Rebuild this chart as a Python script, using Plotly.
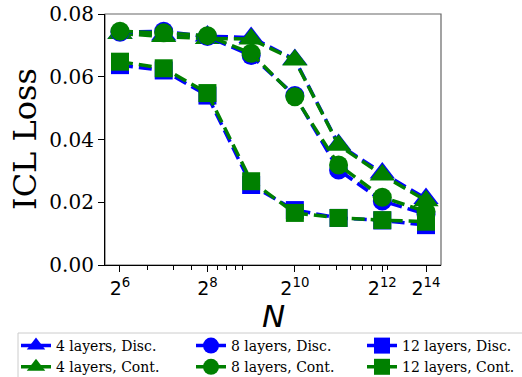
import plotly.graph_objects as go

# ---- data ----
N = [2**6, 2**7, 2**8, 2**9, 2**10, 2**11, 2**12, 2**13]
tick_vals = [2**6, 2**8, 2**10, 2**12, 2**13]
tick_text = ["2<sup>6</sup>", "2<sup>8</sup>", "2<sup>10</sup>", "2<sup>12</sup>", "2<sup>14</sup>"]
minor_exps = [6.634, 7.220, 7.641, 8.236, 8.442, 8.632, 8.808,
              10.554, 10.959, 11.279, 11.554, 11.760, 12.126]

disc4 = [0.0738, 0.0733, 0.0730, 0.0725, 0.0655, 0.0384, 0.0293, 0.0212]
cont4 = [0.0738, 0.0728, 0.0722, 0.0720, 0.0653, 0.0382, 0.0287, 0.0205]
disc8 = [0.0742, 0.0745, 0.0728, 0.0668, 0.0540, 0.0303, 0.0204, 0.0162]
cont8 = [0.0745, 0.0740, 0.0731, 0.0675, 0.0536, 0.0319, 0.0216, 0.0170]
disc12 = [0.0637, 0.0620, 0.0540, 0.0255, 0.0175, 0.0150, 0.0142, 0.0127]
cont12 = [0.0648, 0.0627, 0.0548, 0.0267, 0.0166, 0.0150, 0.0143, 0.0138]

y_ticks = [0.0, 0.02, 0.04, 0.06, 0.08]

BLUE = "#0000ff"
GREEN = "#008000"
DASH = "13px,6px"

series = [
    ("4 layers, Disc.", disc4, BLUE, "triangle-up", 22, "legend"),
    ("4 layers, Cont.", cont4, GREEN, "triangle-up", 22, "legend"),
    ("8 layers, Disc.", disc8, BLUE, "circle", 19, "legend2"),
    ("8 layers, Cont.", cont8, GREEN, "circle", 19, "legend2"),
    ("12 layers, Disc.", disc12, BLUE, "square", 18, "legend3"),
    ("12 layers, Cont.", cont12, GREEN, "square", 18, "legend3"),
]

fig = go.Figure()
for name, vals, col, sym, size, leg in series:
    fig.add_trace(go.Scatter(
        x=N, y=vals, name=name, mode="lines+markers",
        line=dict(color=col, width=3.5, dash=DASH),
        marker=dict(symbol=sym, size=size, color=col, line=dict(width=0)),
        legend=leg,
    ))

W, H = 522, 377
SL, ST, SR, SB = 105, 14, 441, 265  # plot area in page pixels
L, T = SL, ST
pw, ph = SR - SL, SB - ST
R = W - L - pw
B = H - T - ph

def px(xs):
    return (xs - SL) / pw

def py(ys):
    return (SB - ys) / ph

leg_common = dict(
    yanchor="top", xanchor="left", orientation="v",
    bgcolor="rgba(0,0,0,0)", borderwidth=0, tracegroupgap=0,
    font=dict(family="DejaVu Serif", size=14, color="black"),
)

minor_vals = [2**e for e in minor_exps]

fig.update_layout(
    width=W, height=H,
    margin=dict(l=L, r=R, t=T, b=B, autoexpand=False),
    paper_bgcolor="white", plot_bgcolor="white",
    showlegend=True,
    legend=dict(x=px(16), y=py(330), **leg_common),
    legend2=dict(x=px(191), y=py(330), **leg_common),
    legend3=dict(x=px(362), y=py(330), **leg_common),
    xaxis=dict(
        type="log",
        range=[5.657 * 0.30103, 13.343 * 0.30103],
        tickmode="array", tickvals=tick_vals, ticktext=tick_text,
        ticks="outside", ticklen=6, tickwidth=1.2, tickcolor="black",
        showline=True, linecolor="black", linewidth=1.2,
        showgrid=False, zeroline=False,
        tickfont=dict(family="DejaVu Sans", size=19, color="black"),
        minor=dict(tickmode="array", tickvals=minor_vals, ticks="outside",
                   ticklen=3.5, tickwidth=1, tickcolor="black", showgrid=False),
    ),
    yaxis=dict(
        range=[0, 0.08],
        tickmode="array", tickvals=y_ticks, tickformat=".2f",
        ticks="outside", ticklen=6, tickwidth=1.2, tickcolor="black",
        showline=True, linecolor="black", linewidth=1.2,
        showgrid=False, zeroline=False, ticklabeloverflow="allow",
        tickfont=dict(family="DejaVu Serif", size=20, color="black"),
    ),
    shapes=[
        dict(type="rect", xref="paper", yref="paper", x0=0, x1=1, y0=0, y1=1,
             line=dict(color="#666666", width=1.2), layer="below"),
        dict(type="rect", xref="paper", yref="paper",
             x0=px(18), x1=px(540), y0=py(333), y1=py(400),
             line=dict(color="#cccccc", width=1), fillcolor="rgba(255,255,255,0.8)",
             layer="below"),
    ],
    annotations=[
        dict(text="ICL Loss", textangle=-90, xref="paper", yref="paper",
             x=px(25), y=py(139), xanchor="center", yanchor="middle",
             showarrow=False, font=dict(family="DejaVu Serif", size=32, color="black")),
        dict(text="<i>N</i>", xref="paper", yref="paper",
             x=px(273), y=py(316), xanchor="center", yanchor="middle",
             showarrow=False, font=dict(family="DejaVu Sans", size=31, color="black")),
    ],
)

fig.write_html("out.html", config={"displayModeBar": False},
               post_script="document.body.style.margin='0';")
